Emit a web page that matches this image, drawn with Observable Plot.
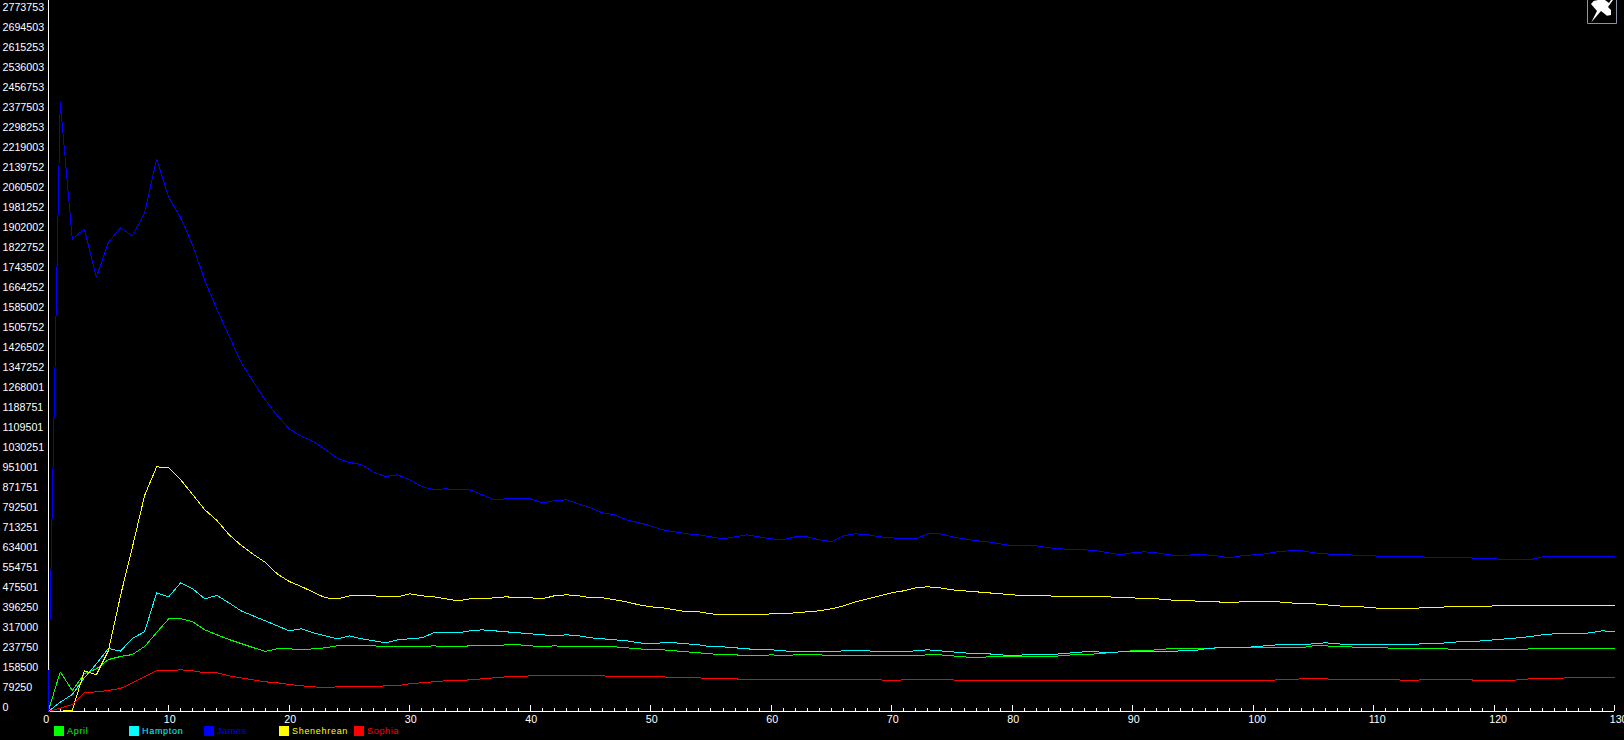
<!DOCTYPE html>
<html>
<head>
<meta charset="utf-8">
<script src="https://cdn.jsdelivr.net/npm/d3@7"></script>
<script src="https://cdn.jsdelivr.net/npm/@observablehq/plot@0.6"></script>
<style>
html,body{margin:0;padding:0;background:#000;overflow:hidden;width:1624px;height:740px}
#chart{position:relative;width:1624px;height:725px}
#chart svg.plot{display:block;font-family:"Liberation Sans",Arial,sans-serif}
#pin{position:absolute;left:1586.5px;top:0;width:30px;height:24px}
#legend{display:flex;height:15px;padding-left:54px;font:9px "Liberation Sans",Arial,sans-serif;letter-spacing:.7px}
#legend .item{width:75px;display:flex;align-items:flex-start;height:15px}
#legend .sw{width:10px;height:10px;margin-top:1px;margin-right:3px}
#legend .lb{line-height:12px}
</style>
</head>
<body>
<div id="chart"></div>
<div id="legend"></div>
<script>
const seriesNames = ["April","Hampton","James","Shenehrean","Sophia"];
const seriesColors = ["#00ff00","#00ffff","#0000ff","#ffff00","#ff0000"];
const yTickValues = [0,79250,158500,237750,317000,396250,475501,554751,634001,713251,792501,871751,951001,1030251,1109501,1188751,1268001,1347252,1426502,1505752,1585002,1664252,1743502,1822752,1902002,1981252,2060502,2139752,2219003,2298253,2377503,2456753,2536003,2615253,2694503,2773753];
const xMajorTicks = [0,10,20,30,40,50,60,70,80,90,100,110,120,130];
const xMinorTicks = d3.range(0,131);
const minorTickHeight = 11900;
const majorTickHeight = 23800;
const yAxisTop = 2817340;

const april = [
0,157311,83213,149386,169199,206050,217938,225863,257563,313038,
367361,367361,355474,323736,303924,285300,269450,253600,237750,248449,
248449,244486,248449,252411,260336,260336,260336,260336,256374,256374,
256374,256374,260336,256374,256374,260336,260336,260336,264299,264299,
260336,256374,260336,256374,256374,256374,256374,256374,252411,248449,
244486,244486,240524,236561,232599,228636,224674,224674,220711,220711,
224674,220711,224674,224674,224674,220711,220711,220711,220711,220711,
220711,220711,220711,224674,224674,220711,216749,212786,216749,216749,
216749,216749,216749,216749,220711,224674,224674,228636,232599,236561,
240524,240524,244486,248449,248449,248449,249638,252411,252411,252411,
252411,252411,252411,252411,252411,260336,260336,256374,256374,252411,
252411,252411,248449,248449,248449,248449,248449,244486,244486,244486,
244486,244486,244486,248449,248449,248449,248449,248449,248449,248449,
248449];

const hampton = [
0,36851,67363,133536,189011,249638,239063,290449,315811,470349,
454499,510261,486236,446574,459650,430724,399024,379211,359399,339586,
319774,327699,311849,299961,288074,299961,288074,280149,272224,284111,
288074,292036,311849,311849,311849,319774,323736,319774,315811,311849,
307886,303924,299961,303924,299961,292036,288074,284111,280149,272224,
268261,272224,272224,268261,264299,256374,256374,252411,248449,244486,
244486,240524,236561,236561,236561,236561,240524,240524,240524,236561,
236561,236561,240524,244486,240524,236561,232599,228636,228636,224674,
220711,224674,224674,224674,228636,232599,236561,236561,232599,236561,
236561,236561,236561,236561,240524,240524,248449,252411,252411,252411,
256374,260336,264299,264299,264299,268261,272224,268261,264299,264299,
264299,264299,264299,264299,268261,268261,272224,276186,276186,280149,
284111,288074,292036,297188,303924,307886,307886,307886,311849,319774,
315811];

const james = [
0,2414351,1870300,1912699,1720914,1859626,1916661,1884961,1974514,2190074,
2037914,1956286,1846525,1707838,1592925,1489900,1384101,1308814,1235111,1172900,
1120199,1090876,1069875,1038175,1002513,986663,978738,948226,931188,937924,
918111,891563,878486,882449,878486,878486,858674,838861,842824,842824,
842824,826974,834899,838861,823011,807161,787349,779424,759611,747724,
735836,719986,712061,704136,700174,692249,684324,692249,700174,692249,
684324,680361,692249,692249,680361,672436,696211,704136,700174,692249,
688286,684324,684324,704136,704136,692249,684324,676399,672436,664511,
656586,656586,656586,648661,644699,640736,640736,636774,628849,620924,
628849,632811,628849,620924,616961,620924,620924,616961,609036,616961,
620924,624886,632811,636774,636774,628849,624886,620924,620924,616961,
616961,612999,612999,612999,612999,609036,609036,609036,609036,605074,
605074,601111,601111,601111,612999,612999,612999,612999,612999,612999,
612999];

const shenehrean = [
0,1300,3963,161274,145424,241713,458863,653813,855900,969631,
965669,918111,858674,799236,756838,701363,658981,623319,591619,545661,
515125,495313,472748,450536,446574,458461,458461,458461,454499,454499,
466386,458461,454499,446574,438649,446574,446574,450536,454499,450536,
450536,446574,458461,462424,458461,450536,450536,442611,434686,422799,
414874,410911,402986,395061,395061,387136,383174,383174,383174,383174,
387136,387136,391099,395061,399024,406949,418836,434686,446574,458461,
470349,478274,490161,494124,490161,482236,478274,474311,470349,466386,
462424,458461,458461,458461,454499,454499,454499,454499,454499,450536,
450536,446574,446574,442611,438649,438649,434686,434686,430724,434686,
434686,434686,434686,430724,426761,426761,422799,418836,414874,414874,
410911,406949,406949,406949,410911,410911,414874,414874,414874,414874,
418836,418836,418836,418836,418836,418836,418836,418836,418836,418836,
418836];

const sophia = [
0,13076,27738,74099,78061,83213,91138,113724,137499,161274,
161274,165236,161274,153349,153349,141461,133536,125611,117686,113724,
106988,101836,97874,93911,97874,97874,97874,97874,101836,101836,
109761,113724,117686,121649,121649,125611,129574,133536,137499,137499,
141461,141461,141461,141461,141461,141461,141461,137499,137499,137499,
137499,137499,133536,133536,133536,129574,129574,129574,125611,125611,
125611,125611,125611,125611,125611,125611,125611,125611,125611,125611,
121649,125611,125611,125611,125611,125611,121649,121649,121649,121649,
121649,121649,121649,121649,121649,121649,121649,121649,121649,121649,
121649,121649,121649,121649,121649,121649,121649,121649,121649,121649,
121649,121649,125611,125611,129574,129574,129574,125611,125611,125611,
125611,125611,125611,121649,125611,125611,125611,125611,125611,121649,
121649,121649,125611,129574,129574,129574,133536,133536,133536,133536,
133536];

const seriesValues = [april,hampton,james,shenehrean,sophia];
const rows = seriesNames.flatMap((name,i)=>seriesValues[i].map((v,x)=>({name,x,v})));

const plot = Plot.plot({
  width:1624,
  height:725,
  marginLeft:47.7,
  marginRight:9.8,
  marginTop:11,
  marginBottom:14,
  style:{background:"#000",color:"#fff",fontSize:"10.7px",fontFamily:'"Liberation Sans",Arial,sans-serif',overflow:"hidden"},
  x:{domain:[0,130],axis:null},
  y:{domain:[0,2773753],axis:null},
  color:{domain:seriesNames,range:seriesColors},
  marks:[
    Plot.ruleX([0],{x:d=>d,y1:0,y2:yAxisTop,stroke:"#fff",shapeRendering:"crispEdges"}),
    Plot.ruleY([0],{y:d=>d,stroke:"#fff",shapeRendering:"crispEdges"}),
    Plot.ruleX(xMinorTicks,{x:d=>d,y1:0,y2:minorTickHeight,stroke:"#fff",shapeRendering:"crispEdges"}),
    Plot.ruleX(xMajorTicks,{x:d=>d,y1:0,y2:majorTickHeight,stroke:"#fff",shapeRendering:"crispEdges"}),
    Plot.line(rows,{x:"x",y:"v",z:"name",stroke:"name",strokeWidth:1,curve:"linear",shapeRendering:"crispEdges",strokeLinejoin:"miter"}),
    Plot.text(yTickValues,{x:0,y:d=>d,text:d=>String(d),dx:-45.7,dy:-4,textAnchor:"start",fill:"#fff"}),
    Plot.text(xMajorTicks,{x:d=>d,y:0,text:d=>String(d),dx:-5,dy:8,textAnchor:"start",fill:"#fff"})
  ]
});
document.getElementById("chart").appendChild(plot);

const pin = document.createElementNS("http://www.w3.org/2000/svg","svg");
pin.setAttribute("id","pin");
pin.setAttribute("viewBox","0 0 30 24");
pin.innerHTML = '<path d="M.5 0V23.5H29.5V0" fill="none" stroke="#8a94a6"/><path d="M4.3 22.3 L10 11 L4 4 L6.7 1 L11 0 L18 0 L22 3 L24 0 L26 0 L21 7 L24 10 L24 15 L20 15.7 L14 11 Z" fill="#fff"/>';
document.getElementById("chart").appendChild(pin);

const legend = document.getElementById("legend");
seriesNames.forEach((name,i)=>{
  const item = document.createElement("div"); item.className="item";
  const sw = document.createElement("div"); sw.className="sw"; sw.style.background=seriesColors[i];
  const lb = document.createElement("div"); lb.className="lb"; lb.textContent=name; lb.style.color=seriesColors[i];
  item.append(sw,lb); legend.append(item);
});
</script>
</body>
</html>
